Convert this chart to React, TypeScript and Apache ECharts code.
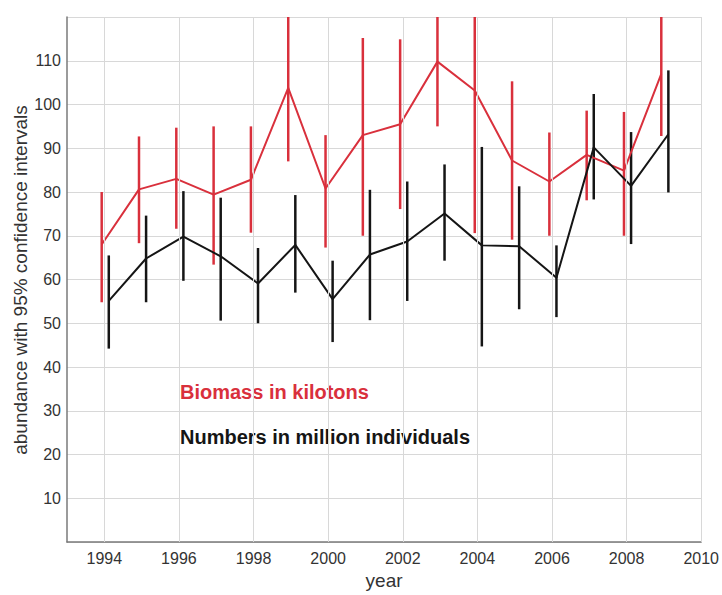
import React, { useEffect, useRef } from "react";
import * as echarts from "echarts";

const years = [1994, 1995, 1996, 1997, 1998, 1999, 2000, 2001, 2002, 2003, 2004, 2005, 2006, 2007, 2008, 2009];
const biomass = [68, 80.6, 83, 79.4, 82.8, 103.8, 80.8, 93, 95.5, 109.8, 103.2, 87.2, 82.4, 88.5, 84.9, 107];
const biomassLow = [54.8, 68.3, 71.6, 63.4, 70.7, 87, 67.3, 70, 76.1, 95, 70.6, 69.1, 70, 78.1, 70, 92.8];
const biomassHigh = [80, 92.7, 94.7, 95, 95, 120, 93, 115.2, 114.9, 120, 120, 105.3, 93.6, 98.6, 98.3, 120];
const numbers = [55.1, 64.8, 69.8, 65.3, 59.1, 67.9, 55.5, 65.7, 68.7, 75.1, 67.8, 67.6, 60.4, 90.2, 81.4, 93.2];
const numbersLow = [44.2, 54.8, 59.7, 50.6, 50, 57, 45.7, 50.7, 55.1, 64.3, 44.7, 53.2, 51.4, 78.3, 68.1, 79.9];
const numbersHigh = [65.5, 74.6, 80.2, 78.7, 67.2, 79.3, 64.3, 80.5, 82.4, 86.3, 90.3, 81.3, 67.8, 102.4, 93.7, 107.8];
const xTickYears = [1994, 1996, 1998, 2000, 2002, 2004, 2006, 2008, 2010];

const RED = "#d9303c";
const BLACK = "#151515";
const RED_OFFSET = -0.07;
const BLACK_OFFSET = 0.12;

export default function App() {
  const ref = useRef<HTMLDivElement>(null);
  useEffect(() => {
    if (!ref.current) return;
    const chart = echarts.init(ref.current, null, { renderer: "svg" });
    const font = "'Liberation Sans', Arial, Helvetica, sans-serif";
    const errSeries = (name: string, lows: number[], highs: number[], off: number, color: string) => ({
      name,
      type: "custom",
      clip: true,
      z: 3,
      data: years.map((y, i) => [y + off, lows[i], highs[i]]),
      renderItem: (params: any, api: any) => {
        const p1 = api.coord([api.value(0), api.value(1)]);
        const p2 = api.coord([api.value(0), api.value(2)]);
        return {
          type: "line",
          shape: { x1: p1[0], y1: p1[1], x2: p2[0], y2: p2[1] },
          style: { stroke: color, lineWidth: 2.5 },
        };
      },
    });
    chart.setOption({
      animation: false,
      grid: { left: 67, right: 19, top: 17, bottom: 48 },
      xAxis: {
        type: "value",
        min: 1993,
        max: 2010,
        name: "year",
        nameLocation: "middle",
        nameGap: 29,
        nameTextStyle: { fontFamily: font, fontSize: 19, color: "#333" },
        axisLine: { show: true, lineStyle: { color: "#7a7a7a", width: 1.5 } },
        axisTick: { show: true, inside: true, length: 4, customValues: xTickYears, lineStyle: { color: "#7a7a7a" } },
        axisLabel: {
          customValues: xTickYears,
          formatter: (v: number) => String(v),
          fontFamily: font,
          fontSize: 16,
          color: "#333",
          margin: 8,
        },
        splitLine: { show: false },
      },
      yAxis: {
        type: "value",
        min: 0,
        max: 120,
        interval: 10,
        axisLine: { show: true, lineStyle: { color: "#7a7a7a", width: 1.5 } },
        axisTick: { show: false },
        axisLabel: {
          formatter: (v: number) => (v === 0 || v === 120 ? "" : String(v)),
          fontFamily: font,
          fontSize: 16,
          color: "#333",
          margin: 6,
        },
        splitLine: { show: true, lineStyle: { color: "#d8d8d8", width: 1 } },
      },
      series: [
        {
          name: "vgrid",
          type: "line",
          data: [],
          z: 1,
          silent: true,
          markLine: {
            silent: true,
            symbol: ["none", "none"],
            label: { show: false },
            lineStyle: { color: "#d8d8d8", type: "solid", width: 1 },
            data: xTickYears.map((y) => ({ xAxis: y })),
          },
        },
        errSeries("biomassErr", biomassLow, biomassHigh, RED_OFFSET, RED),
        errSeries("numbersErr", numbersLow, numbersHigh, BLACK_OFFSET, BLACK),
        {
          name: "Biomass",
          type: "line",
          z: 4,
          showSymbol: false,
          data: years.map((y, i) => [y + RED_OFFSET, biomass[i]]),
          lineStyle: { color: RED, width: 2 },
          itemStyle: { color: RED },
        },
        {
          name: "Numbers",
          type: "line",
          z: 4,
          showSymbol: false,
          data: years.map((y, i) => [y + BLACK_OFFSET, numbers[i]]),
          lineStyle: { color: BLACK, width: 2 },
          itemStyle: { color: BLACK },
        },
      ],
      graphic: [
        {
          type: "text",
          x: 20,
          y: 280,
          rotation: Math.PI / 2,
          style: {
            text: "abundance with 95% confidence intervals",
            fontFamily: font,
            fontSize: 19,
            fill: "#333",
            textAlign: "center",
            textVerticalAlign: "middle",
          },
        },
        {
          type: "text",
          x: 180,
          y: 392,
          style: {
            text: "Biomass in kilotons",
            fontFamily: font,
            fontSize: 20,
            fontWeight: "bold",
            fill: RED,
            textVerticalAlign: "middle",
          },
        },
        {
          type: "text",
          x: 180,
          y: 437,
          style: {
            text: "Numbers in million individuals",
            fontFamily: font,
            fontSize: 20,
            fontWeight: "bold",
            fill: BLACK,
            textVerticalAlign: "middle",
          },
        },
      ],
    });
    return () => chart.dispose();
  }, []);
  return <div ref={ref} style={{ position: "absolute", left: 0, top: 0, width: 722, height: 595 }} />;
}
